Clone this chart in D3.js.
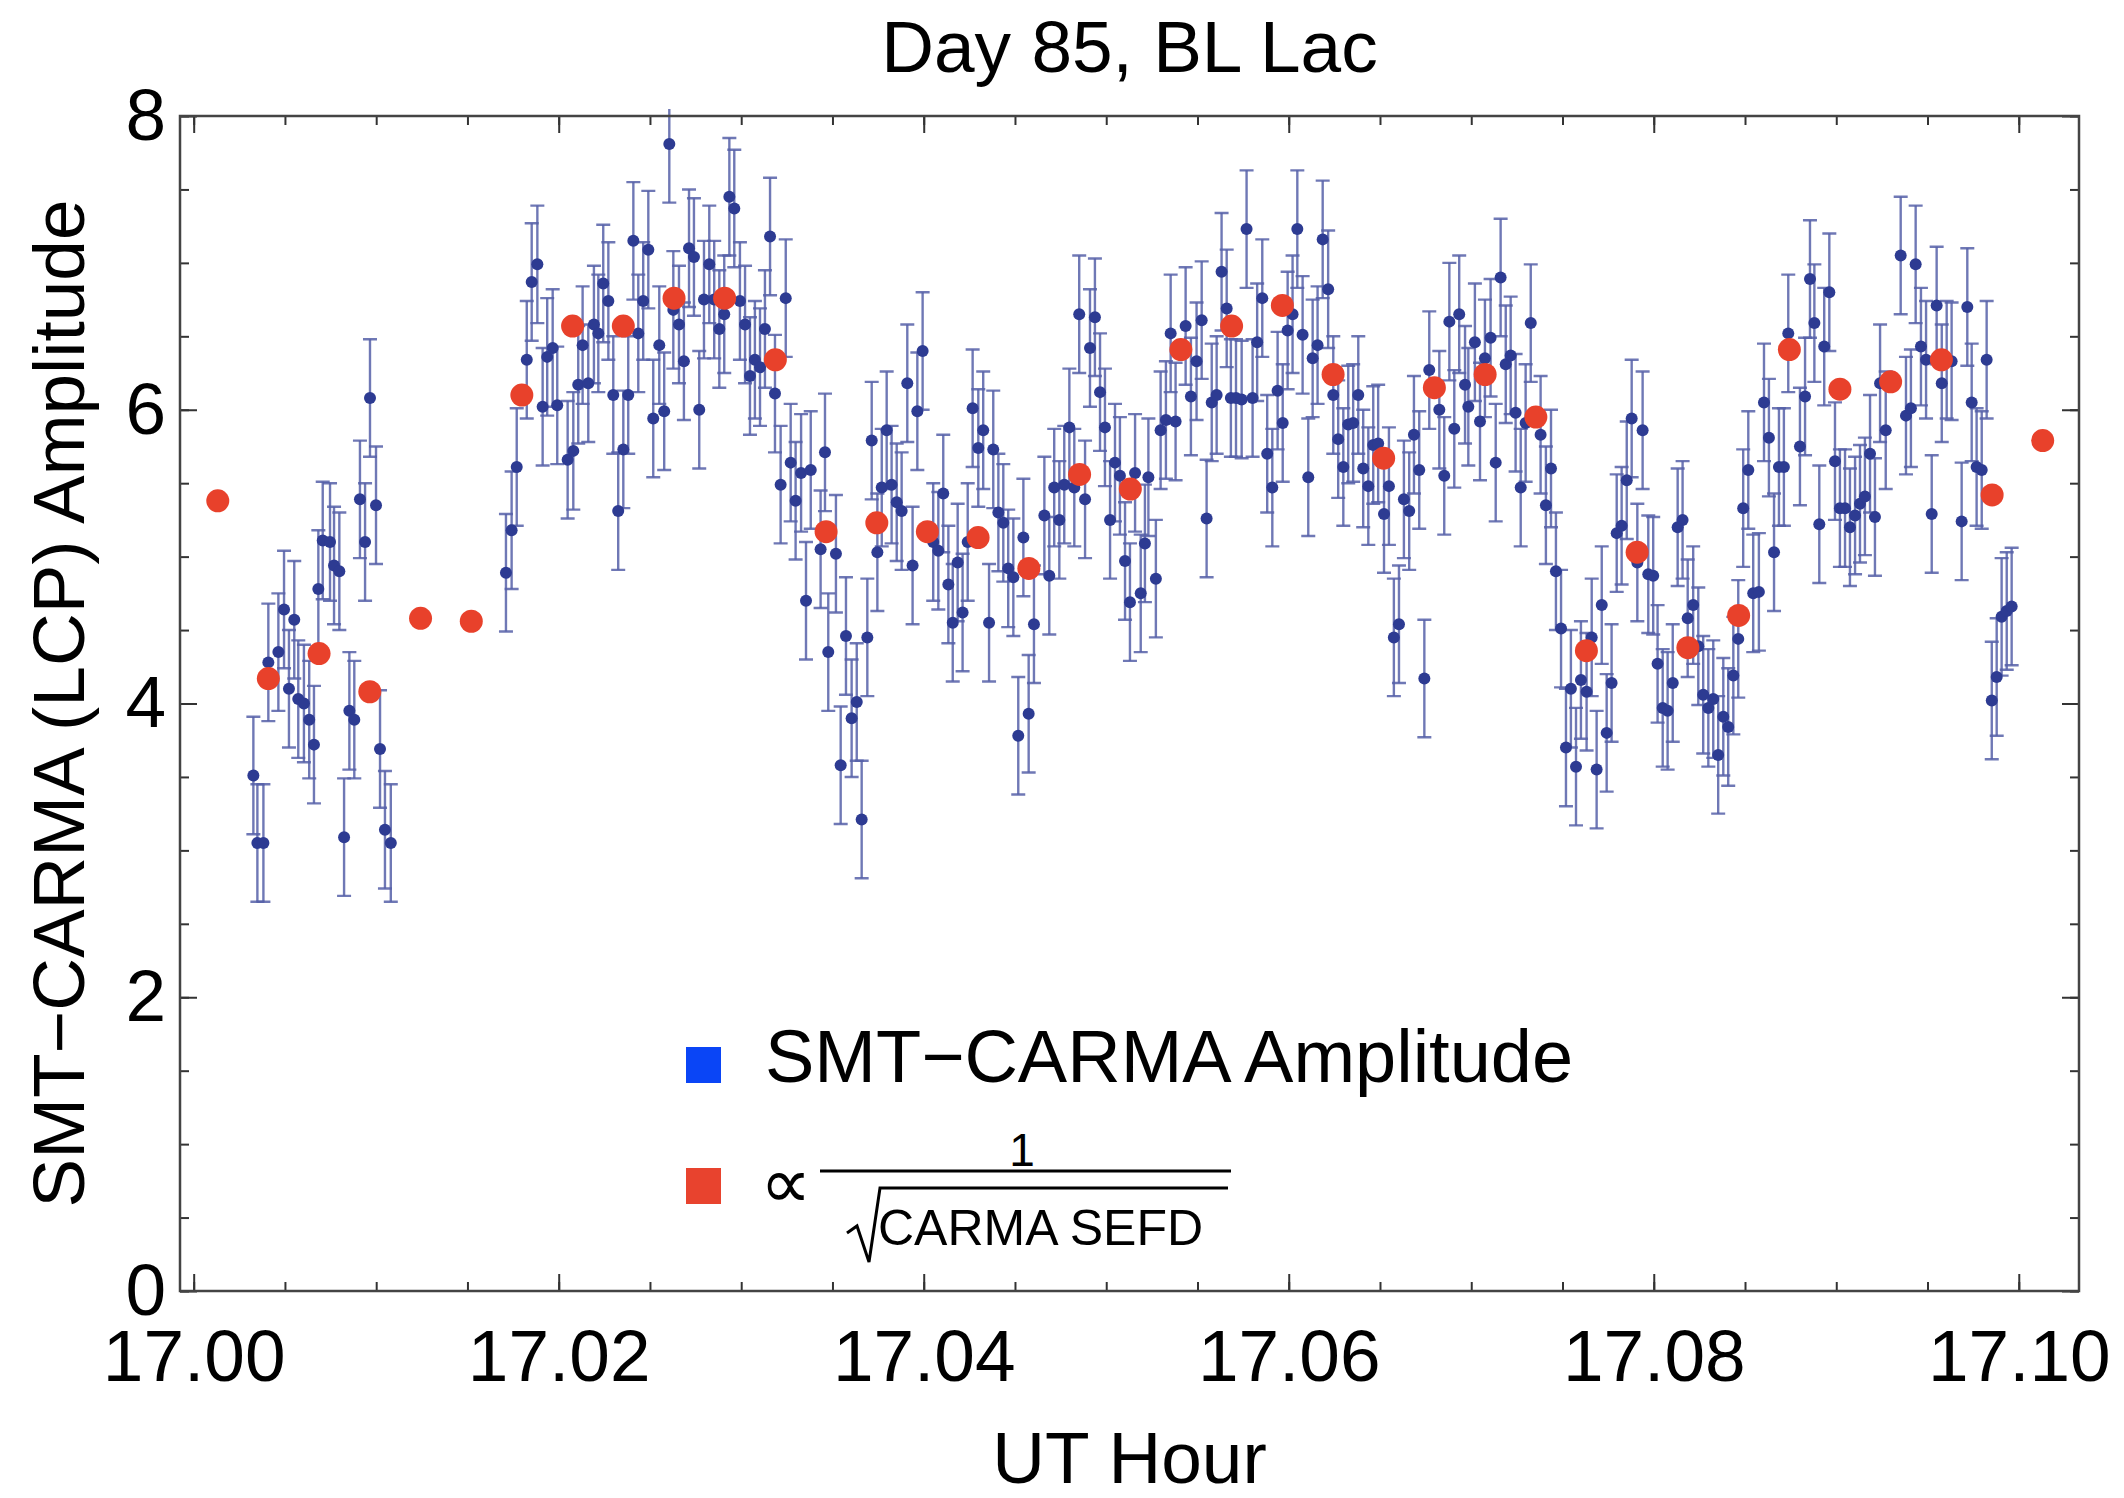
<!DOCTYPE html>
<html>
<head>
<meta charset="utf-8">
<script src="https://cdnjs.cloudflare.com/ajax/libs/d3/7.8.5/d3.min.js"></script>
<style>
  body { margin: 0; background: #fff; }
  text { font-family: "Liberation Sans", Arial, sans-serif; fill: #000; }
</style>
</head>
<body>
<div id="chart"></div>
<script>
// SMT-CARMA amplitude, one point every ~1 s  [UT hour, amplitude]
var ampPoints = [
  [17.00327,3.51],[17.00349,3.05],[17.00382,3.05],[17.00409,4.28],[17.00464,4.35],[17.00495,4.64],[17.00522,4.10],[17.00551,4.57],[17.00573,4.03],[17.00604,4.00],[17.00633,3.89],[17.00659,3.72],[17.00683,4.78],[17.00707,5.11],[17.00747,5.10],[17.00769,4.94],[17.00798,4.90],[17.00824,3.09],[17.00853,3.95],[17.00880,3.89],[17.00911,5.39],[17.00939,5.10],[17.00966,6.08],[17.00999,5.35],[17.01021,3.69],[17.01048,3.14],[17.01080,3.05],
  [17.01711,4.89],[17.01742,5.18],[17.01770,5.61],[17.01825,6.34],[17.01852,6.87],[17.01883,6.99],[17.01912,6.02],[17.01937,6.36],[17.01967,6.42],[17.01992,6.03],[17.02049,5.66],[17.02080,5.72],[17.02107,6.17],[17.02131,6.44],[17.02162,6.18],[17.02193,6.58],[17.02217,6.52],[17.02244,6.86],[17.02272,6.74],[17.02299,6.10],[17.02326,5.31],[17.02354,5.73],[17.02381,6.10],[17.02409,7.15],[17.02436,6.52],[17.02463,6.74],[17.02491,7.09],[17.02518,5.94],[17.02551,6.44],[17.02578,5.99],[17.02606,7.81],[17.02628,6.68],[17.02659,6.58],[17.02686,6.33],[17.02714,7.10],[17.02741,7.04],[17.02770,6.00],[17.02796,6.75],[17.02825,6.99],[17.02852,6.75],[17.02880,6.55],[17.02907,6.65],[17.02935,7.45],[17.02962,7.37],[17.02993,6.74],[17.03021,6.58],[17.03048,6.23],[17.03075,6.34],[17.03103,6.29],[17.03130,6.55],[17.03158,7.18],[17.03185,6.11],[17.03216,5.49],[17.03244,6.76],[17.03271,5.64],[17.03298,5.38],[17.03328,5.57],[17.03355,4.70],[17.03381,5.59],[17.03435,5.05],[17.03459,5.71],[17.03477,4.35],
  [17.03519,5.02],[17.03545,3.58],[17.03574,4.46],[17.03605,3.90],[17.03633,4.01],[17.03660,3.21],[17.03691,4.45],[17.03715,5.79],[17.03746,5.03],[17.03770,5.47],[17.03797,5.86],[17.03824,5.49],[17.03852,5.37],[17.03879,5.31],[17.03910,6.18],[17.03939,4.94],[17.03965,5.99],[17.03994,6.40],[17.04052,5.10],[17.04080,5.04],[17.04107,5.43],[17.04135,4.81],[17.04159,4.55],[17.04186,4.96],[17.04213,4.62],[17.04241,5.10],[17.04268,6.01],[17.04299,5.74],[17.04326,5.86],[17.04358,4.55],[17.04381,5.73],[17.04409,5.30],[17.04436,5.23],[17.04463,4.92],[17.04491,4.86],[17.04518,3.78],[17.04546,5.13],[17.04575,3.93],[17.04604,4.54],[17.04661,5.28],[17.04688,4.87],[17.04715,5.47],[17.04743,5.25],[17.04770,5.49],[17.04798,5.88],[17.04825,5.47],[17.04852,6.65],[17.04884,5.39],[17.04911,6.42],[17.04938,6.63],[17.04966,6.12],[17.04993,5.88],[17.05021,5.25],[17.05048,5.64],[17.05075,5.55],[17.05103,4.97],[17.05130,4.69],[17.05158,5.57],[17.05189,4.75],[17.05212,5.09],[17.05231,5.54],
  [17.05272,4.85],[17.05298,5.86],[17.05327,5.93],[17.05353,6.52],[17.05380,5.92],[17.05435,6.57],[17.05464,6.09],[17.05495,6.33],[17.05523,6.61],[17.05550,5.26],[17.05578,6.05],[17.05605,6.10],[17.05632,6.94],[17.05660,6.69],[17.05683,6.08],[17.05711,6.08],[17.05742,6.07],[17.05769,7.23],[17.05802,6.08],[17.05827,6.46],[17.05855,6.76],[17.05882,5.70],[17.05910,5.47],[17.05939,6.13],[17.05967,5.91],[17.05994,6.54],[17.06021,6.65],[17.06047,7.23],[17.06076,6.51],[17.06107,5.54],[17.06131,6.35],[17.06158,6.44],[17.06186,7.16],[17.06216,6.82],[17.06244,6.10],[17.06271,5.80],[17.06299,5.61],[17.06326,5.90],[17.06353,5.91],[17.06381,6.10],[17.06408,5.60],[17.06436,5.48],[17.06463,5.76],[17.06490,5.77],[17.06522,5.29],[17.06549,5.48],[17.06576,4.45],[17.06604,4.54],[17.06631,5.39],[17.06660,5.31],[17.06686,5.83],[17.06715,5.59],[17.06743,4.17],[17.06770,6.27],[17.06825,6.00],[17.06852,5.55],[17.06880,6.60],[17.06907,5.87],[17.06934,6.65],[17.06966,6.17],[17.06984,6.02],
  [17.07020,6.46],[17.07048,5.92],[17.07075,6.35],[17.07106,6.49],[17.07134,5.64],[17.07161,6.90],[17.07189,6.31],[17.07216,6.37],[17.07243,5.98],[17.07271,5.47],[17.07298,5.91],[17.07326,6.59],[17.07380,5.83],[17.07409,5.35],[17.07437,5.60],[17.07464,4.90],[17.07492,4.51],[17.07519,3.70],[17.07546,4.10],[17.07574,3.57],[17.07601,4.16],[17.07632,4.08],[17.07660,4.45],[17.07687,3.55],[17.07715,4.67],[17.07742,3.80],[17.07769,4.14],[17.07797,5.16],[17.07824,5.21],[17.07852,5.52],[17.07879,5.94],[17.07910,4.96],[17.07939,5.86],[17.07970,4.88],[17.07997,4.87],[17.08021,4.27],[17.08049,3.97],[17.08076,3.95],[17.08104,4.14],[17.08131,5.20],[17.08158,5.25],[17.08186,4.58],[17.08216,4.67],[17.08244,4.39],[17.08271,4.06],[17.08299,3.97],[17.08326,4.03],[17.08353,3.65],[17.08381,3.91],[17.08408,3.84],[17.08436,4.19],[17.08463,4.44],[17.08490,5.33],[17.08518,5.59],[17.08545,4.75],[17.08576,4.76],[17.08604,6.05],[17.08631,5.81],[17.08659,5.03],[17.08686,5.61],[17.08713,5.61],[17.08737,6.52],
  [17.08801,5.75],[17.08829,6.09],[17.08856,6.89],[17.08880,6.59],[17.08907,5.22],[17.08934,6.43],[17.08962,6.80],[17.08993,5.65],[17.09020,5.33],[17.09048,5.33],[17.09075,5.20],[17.09103,5.28],[17.09130,5.36],[17.09157,5.41],[17.09185,5.70],[17.09212,5.27],[17.09240,6.18],[17.09271,5.86],[17.09353,7.05],[17.09382,5.96],[17.09409,6.01],[17.09435,6.99],[17.09464,6.43],[17.09492,6.34],[17.09523,5.29],[17.09550,6.71],[17.09578,6.18],[17.09605,6.34],[17.09632,6.33],[17.09687,5.24],[17.09718,6.70],[17.09742,6.05],[17.09769,5.61],[17.09797,5.59],[17.09824,6.34],[17.09852,4.02],[17.09879,4.18],[17.09906,4.59],[17.09934,4.63],[17.09961,4.66]
];
// error bar half-height (same for every point)
var ampErr = 0.40;

// scaled 1/sqrt(CARMA SEFD), every 10 s
var sefdHours = [17.00132,17.00409,17.00687,17.00965,17.01243,17.01521,17.01798,17.02076,17.02354,17.02632,17.02909,17.03187,17.03465,17.03743,17.04020,17.04298,17.04576,17.04854,17.05132,17.05409,17.05687,17.05965,17.06243,17.06520,17.06798,17.07076,17.07354,17.07631,17.07909,17.08187,17.08465,17.08743,17.09020,17.09298,17.09576,17.09854,17.10131];
var sefdValues = [5.38,4.17,4.34,4.08,4.58,4.56,6.10,6.57,6.57,6.76,6.76,6.34,5.17,5.23,5.17,5.13,4.92,5.56,5.46,6.41,6.57,6.71,6.24,5.67,6.15,6.24,5.95,4.36,5.03,4.38,4.60,6.41,6.14,6.19,6.34,5.42,5.79];

// tick values
var xMajorTicks = [17.00, 17.02, 17.04, 17.06, 17.08, 17.10];
var xMinorTicks = d3.range(0, 21).map(i => 17 + i * 0.005);
var yMajorTicks = [0, 2, 4, 6, 8];
var yMinorTicks = d3.range(0, 17).map(i => i * 0.5);

var svgWidth = 2124;
var svgHeight = 1498;

// plot frame in pixels
var frame = { left: 180, right: 2079, top: 116, bottom: 1291 };

var svg = d3.select("#chart")
  .append("svg")
  .attr("width", svgWidth)
  .attr("height", svgHeight)
  .style("background", "#fff");

var xScale = d3.scaleLinear()
  .domain([16.99925, 17.1033])
  .range([frame.left, frame.right]);

var yScale = d3.scaleLinear()
  .domain([0, 8])
  .range([frame.bottom, frame.top]);

// clip marks to plot region (a bit of room at the top like Mathematica)
svg.append("clipPath")
  .attr("id", "plotClip")
  .append("rect")
  .attr("x", frame.left)
  .attr("y", frame.top - 7)
  .attr("width", frame.right - frame.left)
  .attr("height", frame.bottom - frame.top + 7);

var plot = svg.append("g").attr("clip-path", "url(#plotClip)");

// error bars
var barGroup = plot.append("g")
  .attr("stroke", "#5660a8")
  .attr("stroke-width", 2.4)
  .attr("stroke-opacity", 0.85);

barGroup.selectAll("line.bar")
  .data(ampPoints)
  .enter()
  .append("line")
  .attr("x1", d => xScale(d[0]))
  .attr("x2", d => xScale(d[0]))
  .attr("y1", d => yScale(d[1] - ampErr))
  .attr("y2", d => yScale(d[1] + ampErr));

barGroup.selectAll("path.cap")
  .data(ampPoints)
  .enter()
  .append("path")
  .attr("d", d => {
    var cx = xScale(d[0]);
    var lo = yScale(d[1] - ampErr);
    var hi = yScale(d[1] + ampErr);
    return `M${cx - 7},${lo}H${cx + 7}M${cx - 7},${hi}H${cx + 7}`;
  });

// amplitude points
plot.append("g")
  .selectAll("circle")
  .data(ampPoints)
  .enter()
  .append("circle")
  .attr("cx", d => xScale(d[0]))
  .attr("cy", d => yScale(d[1]))
  .attr("r", 6)
  .attr("fill", "#2d3b92");

// SEFD points
plot.append("g")
  .selectAll("circle")
  .data(sefdHours)
  .enter()
  .append("circle")
  .attr("cx", d => xScale(d))
  .attr("cy", (d, i) => yScale(sefdValues[i]))
  .attr("r", 11.5)
  .attr("fill", "#e8412b");

// axes: ticks point inward on all four sides
function styleAxis(g) {
  g.select(".domain").remove();
  g.selectAll(".tick line").attr("stroke", "#333").attr("stroke-width", 2);
  g.selectAll(".tick text")
    .style("font-family", "'Liberation Sans', Arial, sans-serif")
    .style("font-size", "73px")
    .attr("fill", "#000");
}

// bottom
svg.append("g")
  .attr("transform", `translate(0, ${frame.bottom})`)
  .call(d3.axisBottom(xScale).tickValues(xMinorTicks).tickSize(-9).tickFormat(""))
  .call(styleAxis);
svg.append("g")
  .attr("transform", `translate(0, ${frame.bottom})`)
  .call(d3.axisBottom(xScale).tickValues(xMajorTicks).tickSize(-17).tickPadding(38)
    .tickFormat(d3.format(".2f")))
  .call(styleAxis);

// top
svg.append("g")
  .attr("transform", `translate(0, ${frame.top})`)
  .call(d3.axisTop(xScale).tickValues(xMinorTicks).tickSize(-9).tickFormat(""))
  .call(styleAxis);
svg.append("g")
  .attr("transform", `translate(0, ${frame.top})`)
  .call(d3.axisTop(xScale).tickValues(xMajorTicks).tickSize(-17).tickFormat(""))
  .call(styleAxis);

// left
svg.append("g")
  .attr("transform", `translate(${frame.left}, 0)`)
  .call(d3.axisLeft(yScale).tickValues(yMinorTicks).tickSize(-9).tickFormat(""))
  .call(styleAxis);
svg.append("g")
  .attr("transform", `translate(${frame.left}, 0)`)
  .call(d3.axisLeft(yScale).tickValues(yMajorTicks).tickSize(-17).tickPadding(14)
    .tickFormat(d3.format("d")))
  .call(styleAxis);

// right
svg.append("g")
  .attr("transform", `translate(${frame.right}, 0)`)
  .call(d3.axisRight(yScale).tickValues(yMinorTicks).tickSize(-9).tickFormat(""))
  .call(styleAxis);
svg.append("g")
  .attr("transform", `translate(${frame.right}, 0)`)
  .call(d3.axisRight(yScale).tickValues(yMajorTicks).tickSize(-17).tickFormat(""))
  .call(styleAxis);

// frame
svg.append("rect")
  .attr("x", frame.left)
  .attr("y", frame.top)
  .attr("width", frame.right - frame.left)
  .attr("height", frame.bottom - frame.top)
  .attr("fill", "none")
  .attr("stroke", "#444")
  .attr("stroke-width", 2.5);

// title and axis labels
svg.append("text")
  .attr("x", (frame.left + frame.right) / 2)
  .attr("y", 72)
  .attr("text-anchor", "middle")
  .style("font-size", "73px")
  .text("Day 85, BL Lac");

svg.append("text")
  .attr("x", (frame.left + frame.right) / 2)
  .attr("y", 1483)
  .attr("text-anchor", "middle")
  .style("font-size", "73px")
  .text("UT Hour");

svg.append("text")
  .attr("transform", `translate(84, ${(frame.top + frame.bottom) / 2}) rotate(-90)`)
  .attr("text-anchor", "middle")
  .style("font-size", "73px")
  .text("SMT\u2212CARMA (LCP) Amplitude");

// legend
var legend = svg.append("g");

legend.append("rect")
  .attr("x", 686).attr("y", 1047)
  .attr("width", 35).attr("height", 36)
  .attr("fill", "#0a45f6");

legend.append("text")
  .attr("x", 765).attr("y", 1082)
  .style("font-size", "74px")
  .text("SMT\u2212CARMA Amplitude");

legend.append("rect")
  .attr("x", 686).attr("y", 1168)
  .attr("width", 35).attr("height", 36)
  .attr("fill", "#e8432e");

legend.append("text")
  .attr("x", 760).attr("y", 1208)
  .style("font-family", "'DejaVu Sans', sans-serif")
  .style("font-size", "72px")
  .text("\u221D");

// fraction 1 / sqrt(CARMA SEFD)
legend.append("text")
  .attr("x", 1022).attr("y", 1166)
  .attr("text-anchor", "middle")
  .style("font-size", "46px")
  .text("1");

legend.append("line")
  .attr("x1", 820).attr("x2", 1231)
  .attr("y1", 1171).attr("y2", 1171)
  .attr("stroke", "#000").attr("stroke-width", 3);

legend.append("path")
  .attr("d", "M847,1233 L857,1226 L869,1262 L880,1188 L1228,1188")
  .attr("fill", "none")
  .attr("stroke", "#000")
  .attr("stroke-width", 3)
  .attr("stroke-linejoin", "miter");

legend.append("text")
  .attr("x", 878).attr("y", 1245)
  .style("font-size", "50px")
  .text("CARMA SEFD");
</script>
</body>
</html>
